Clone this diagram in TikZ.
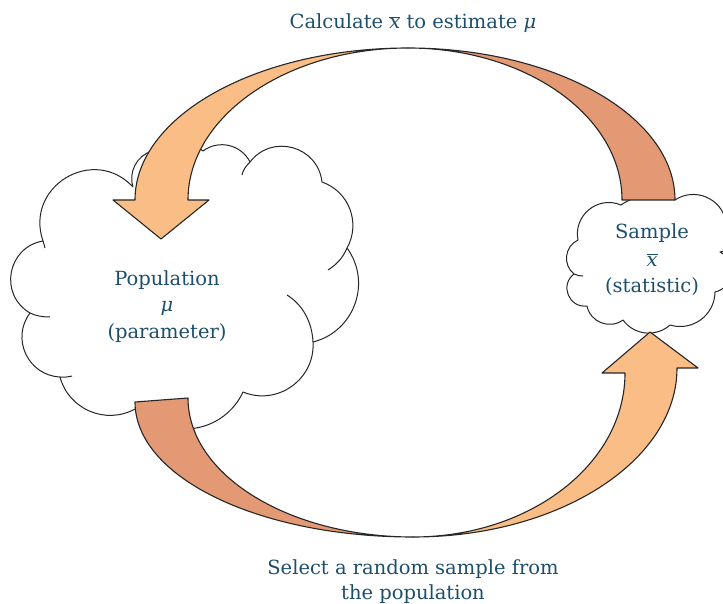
\documentclass[tikz,border=0pt]{standalone}
\usepackage{fontspec}
\setmainfont{DejaVu Serif}
\definecolor{lightor}{RGB}{250,189,133}
\definecolor{brownor}{RGB}{227,153,116}
\definecolor{txtblue}{RGB}{29,78,107}
\newcommand{\myxbar}{\ensuremath{\overline{\mbox{\itshape x}}}}
\begin{document}
\begin{tikzpicture}[x=1pt,y=-1pt, line join=round,
  arrowline/.style={draw=black!85, line width=1.1pt},
  cloudline/.style={draw=black!85, line width=1pt},
  lbl/.style={text=txtblue, font=\fontsize{19.5}{24}\selectfont, inner sep=0pt, anchor=base}]
\useasboundingbox (0,0) rectangle (723,604);
\clip (0,0) rectangle (723,604);

% population cloud
\path[cloudline, fill=white] (43,241)
  to[bend left=78, looseness=1.41] (133,187)
  to[bend left=45, looseness=1.0] (152,151)
  to[bend left=40, looseness=0.97] (203,151)
  to[bend left=50, looseness=1.04] (250,162)
  to[bend left=68, looseness=1.24] (322,182)
  to[bend left=50, looseness=1.04] (347,248)
  to[bend left=56, looseness=1.09] (313,342)
  to[bend left=58, looseness=1.11] (243,392)
  to[bend left=28, looseness=0.9] (196,428)
  to[bend left=30, looseness=0.91] (135,409)
  to[bend left=52, looseness=1.05] (60,377)
  to[bend left=62, looseness=1.16] (30,313)
  to[bend left=70, looseness=1.27] (43,241) -- cycle;
% hooks
\draw[cloudline] (30,313) .. controls (36,316) and (43,317) .. (50,317);
\draw[cloudline] (60,377) .. controls (64,377.5) and (68,377) .. (72,376);
\draw[cloudline] (43,241) .. controls (44,244) and (44.5,246) .. (45,248);
\draw[cloudline] (347,248) .. controls (343,258) and (336,265) .. (328,270);
\draw[cloudline] (313,342) .. controls (312,322) and (303,305) .. (287,295);
\draw[cloudline] (250,162) .. controls (246,166) and (243,170) .. (242,175);

% sample cloud
\path[cloudline, fill=white] (578,240)
  to[bend left=62, looseness=1.16] (621,205)
  to[bend left=30, looseness=0.91] (675,200)
  to[bend left=57, looseness=1.10] (726,222)
  to[bend left=70, looseness=1.27] (720,252)
  to[bend left=70, looseness=1.27] (715,292)
  to[bend left=53, looseness=1.07] (670,325)
  to[bend left=48, looseness=1.02] (623,320)
  to[bend left=57, looseness=1.10] (587,306)
  to[bend left=75, looseness=1.35] (574,274)
  to[bend left=58, looseness=1.11] (578,240) -- cycle;
\draw[cloudline] (574,274) .. controls (577,275.5) and (580,276) .. (583,276);

% top arrows
\path[arrowline, fill=lightor] (408,48) .. controls (257,48) and (135,116) .. (135,200)
  -- (113,200) -- (161,239) -- (209,200) -- (188,200)
  .. controls (188,116) and (287,48) .. (408,48) -- cycle;
\path[arrowline, fill=brownor] (408,48) .. controls (555,48) and (675,116) .. (675,200)
  -- (622,200) .. controls (622,116) and (526,48) .. (408,48) -- cycle;

% bottom arrows
\path[arrowline, fill=brownor] (135,402) -- (188,398)
  .. controls (188,475) and (289,537) .. (413,537)
  .. controls (258,537) and (135,477) .. (135,402) -- cycle;
\path[arrowline, fill=lightor] (413,537) .. controls (559,537) and (677,461) .. (677,368)
  -- (698,368) -- (650,332) -- (602,373) -- (625,373)
  .. controls (625,464) and (530,537) .. (413,537) -- cycle;

% texts
\node[lbl] (top) at (413,29) {Calculate \myxbar{} to estimate {\itshape μ}};
\node[lbl] (pop1) at (167,285.5) {Population};
\node[lbl] (pop2) at (167,311) {\itshape μ};
\node[lbl] (pop3) at (167,338) {(parameter)};
\node[lbl] (s1) at (652,238.5) {Sample};
\node[lbl] (s2) at (652,266) {\myxbar};
\node[lbl] (s3) at (652,292) {(statistic)};
\node[lbl] (b1) at (413,574) {Select a random sample from};
\node[lbl] (b2) at (413,599) {the population};
\end{tikzpicture}
\end{document}
